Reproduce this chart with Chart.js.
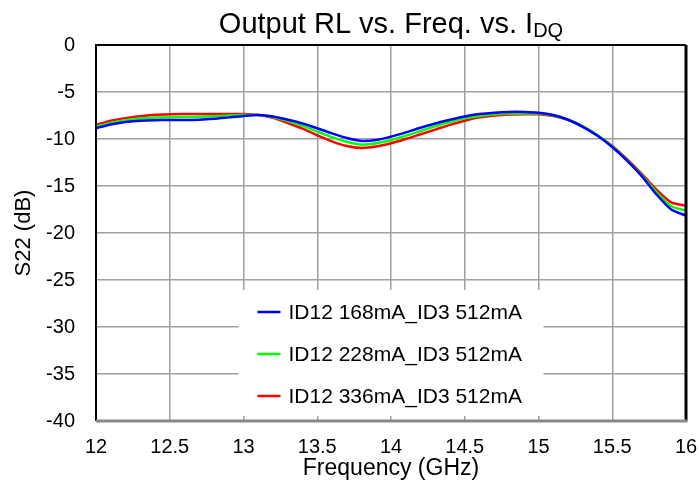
<!DOCTYPE html>
<html>
<head>
<meta charset="utf-8">
<script src="https://cdn.jsdelivr.net/npm/chart.js@4.4.0/dist/chart.umd.min.js"></script>
<style>
  html, body { margin: 0; padding: 0; background: #fff; }
  #wrap { width: 699px; height: 487px; }
</style>
</head>
<body>
<div id="wrap"><canvas id="s22Chart" width="699" height="487"></canvas></div>
<script>
// frequency points (GHz)
const freqGHz = [12.0, 12.1, 12.2, 12.3, 12.4, 12.5, 12.6, 12.7, 12.8, 12.9,
  13.0, 13.1, 13.2, 13.3, 13.4, 13.5, 13.6, 13.7, 13.8, 13.9,
  14.0, 14.1, 14.2, 14.3, 14.4, 14.5, 14.6, 14.7, 14.8, 14.9,
  15.0, 15.1, 15.2, 15.3, 15.4, 15.5, 15.6, 15.7, 15.8, 15.9, 16.0];

// S22 (dB) per bias point
const s22_168 = [-8.85, -8.45, -8.2, -8.05, -8.0, -7.98, -7.97, -7.95, -7.85, -7.7,
  -7.55, -7.45, -7.6, -7.95, -8.35, -8.85, -9.4, -9.9, -10.2, -10.1,
  -9.75, -9.3, -8.8, -8.35, -7.95, -7.6, -7.35, -7.2, -7.12, -7.12,
  -7.2, -7.45, -7.95, -8.7, -9.65, -10.85, -12.3, -13.95, -15.9, -17.5, -18.15];
const s22_228 = [-8.7, -8.3, -8.0, -7.82, -7.72, -7.68, -7.66, -7.63, -7.58, -7.5,
  -7.45, -7.45, -7.65, -8.1, -8.6, -9.2, -9.8, -10.3, -10.6, -10.45,
  -10.1, -9.65, -9.15, -8.65, -8.2, -7.8, -7.55, -7.38, -7.3, -7.28,
  -7.3, -7.5, -7.95, -8.65, -9.6, -10.8, -12.25, -13.85, -15.65, -17.15, -17.6];
const s22_336 = [-8.5, -8.05, -7.78, -7.58, -7.42, -7.36, -7.34, -7.35, -7.34, -7.33,
  -7.34, -7.45, -7.75, -8.3, -8.9, -9.6, -10.25, -10.75, -10.95, -10.8,
  -10.45, -10.0, -9.5, -9.0, -8.5, -8.05, -7.7, -7.5, -7.4, -7.37,
  -7.37, -7.55, -7.95, -8.65, -9.6, -10.75, -12.15, -13.7, -15.4, -16.75, -17.1];

const seriesLabels = ['ID12 168mA_ID3 512mA', 'ID12 228mA_ID3 512mA', 'ID12 336mA_ID3 512mA'];
const seriesColors = ['#0000ff', '#00ff00', '#ff0000'];

const xTicks = [12, 12.5, 13, 13.5, 14, 14.5, 15, 15.5, 16];
const yTicks = [0, -5, -10, -15, -20, -25, -30, -35, -40];

const FONT = '"Liberation Sans", Arial, Helvetica, sans-serif';

function toPoints(ys) {
  return freqGHz.map((f, i) => ({ x: f, y: ys[i] }));
}

// title with subscript
const titlePlugin = {
  id: 'subTitle',
  afterDraw(chart) {
    const ctx = chart.ctx;
    const main = 'Output RL vs. Freq. vs. I';
    const sub = 'DQ';
    ctx.save();
    ctx.fillStyle = '#000';
    ctx.textBaseline = 'alphabetic';
    ctx.font = '29px ' + FONT;
    const w1 = ctx.measureText(main).width;
    ctx.font = '20px ' + FONT;
    const w2 = ctx.measureText(sub).width;
    const cx = (chart.chartArea.left + chart.chartArea.right) / 2;
    const x0 = cx - (w1 + w2) / 2;
    ctx.textAlign = 'left';
    ctx.font = '29px ' + FONT;
    ctx.fillText(main, x0, 33);
    ctx.font = '20px ' + FONT;
    ctx.fillText(sub, x0 + w1, 37);
    ctx.restore();
  }
};

// legend box drawn inside the plot
const boxLegend = {
  id: 'boxLegend',
  afterDatasetsDraw(chart) {
    const ctx = chart.ctx;
    const a = chart.chartArea;
    const w = 305, h = 126;
    const left = (a.left + a.right) / 2 - w / 2;
    const top = a.bottom - 5 - h;
    ctx.save();
    ctx.fillStyle = '#fff';
    ctx.fillRect(left, top, w, h);
    ctx.font = '21px ' + FONT;
    ctx.textBaseline = 'middle';
    ctx.textAlign = 'left';
    chart.data.datasets.forEach((ds, i) => {
      const y = top + 22 + i * 42;
      ctx.strokeStyle = ds.borderColor;
      ctx.lineWidth = 2.5;
      ctx.beginPath();
      ctx.moveTo(left + 19, y);
      ctx.lineTo(left + 42, y);
      ctx.stroke();
      ctx.fillStyle = '#000';
      ctx.fillText(ds.label, left + 50, y + 1);
    });
    ctx.restore();
  },
  afterDraw(chart) {
    const ctx = chart.ctx;
    const a = chart.chartArea;
    ctx.save();
    ctx.strokeStyle = '#000';
    ctx.lineWidth = 2;
    ctx.beginPath();
    ctx.moveTo(a.left, a.bottom);
    ctx.lineTo(a.left, a.top);
    ctx.lineTo(a.right, a.top);
    ctx.stroke();
    ctx.lineWidth = 3;
    ctx.beginPath();
    ctx.moveTo(a.right, a.top);
    ctx.lineTo(a.right, a.bottom);
    ctx.stroke();
    ctx.strokeStyle = '#888';
    ctx.beginPath();
    ctx.moveTo(a.left, a.bottom);
    ctx.lineTo(a.right + 1.5, a.bottom);
    ctx.stroke();
    ctx.restore();
  }
};

const ctx = document.getElementById('s22Chart').getContext('2d');
const s22Chart = new Chart(ctx, {
  type: 'line',
  data: {
    datasets: [s22_168, s22_228, s22_336].map((ys, i) => ({
      label: seriesLabels[i],
      data: toPoints(ys),
      borderColor: seriesColors[i],
      backgroundColor: seriesColors[i],
      borderWidth: 2.5,
      pointRadius: 0,
      tension: 0.25,
      fill: false
    }))
  },
  options: {
    responsive: false,
    animation: false,
    devicePixelRatio: 1,
    layout: { padding: { top: 45, right: 13, left: 0, bottom: 0 } },
    plugins: {
      legend: { display: false },
      title: { display: false },
      tooltip: { enabled: false }
    },
    scales: {
      x: {
        type: 'linear',
        min: 12,
        max: 16,
        afterBuildTicks: s => { s.ticks = xTicks.map(v => ({ value: v })); },
        afterFit: s => { s.height = 66; s.paddingRight = 0; s.paddingLeft = 0; },
        grid: { color: '#a0a0a0', lineWidth: 1.5, drawTicks: false },
        border: { display: false },
        ticks: {
          color: '#000', padding: 14, maxRotation: 0, autoSkip: false,
          font: { family: FONT, size: 20 },
          callback: v => String(Number(v))
        },
        title: { display: true, text: 'Frequency (GHz)', color: '#000', padding: { top: 0, bottom: 5 }, font: { family: FONT, size: 23 } }
      },
      y: {
        min: -40,
        max: 0,
        afterBuildTicks: s => { s.ticks = yTicks.map(v => ({ value: v })); },
        afterFit: s => { s.width = 96; s.paddingTop = 0; s.paddingBottom = 0; },
        grid: { color: '#a0a0a0', lineWidth: 1.5, drawTicks: false },
        border: { display: false },
        ticks: { color: '#000', padding: 21, font: { family: FONT, size: 20 } },
        title: { display: true, text: 'S22 (dB)', color: '#000', padding: { top: 11, bottom: 0 }, font: { family: FONT, size: 22 } }
      }
    }
  },
  plugins: [titlePlugin, boxLegend]
});
</script>
</body>
</html>
